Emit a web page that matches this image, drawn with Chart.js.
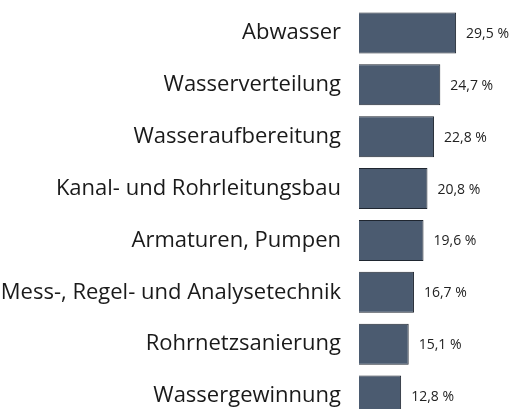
<!DOCTYPE html>
<html>
<head>
<meta charset="utf-8">
<script src="https://cdn.jsdelivr.net/npm/chart.js@4"></script>
<style>
  html, body { margin: 0; padding: 0; background: #fff; overflow: hidden; }
  canvas { display: block; }
</style>
</head>
<body>
<canvas id="bereichChart" width="517" height="422"></canvas>
<script>
const categories = [
  'Abwasser',
  'Wasserverteilung',
  'Wasseraufbereitung',
  'Kanal- und Rohrleitungsbau',
  'Armaturen, Pumpen',
  'Mess-, Regel- und Analysetechnik',
  'Rohrnetzsanierung',
  'Wassergewinnung',
];
const shares = [29.5, 24.7, 22.8, 20.8, 19.6, 16.7, 15.1, 12.8];

const formatShare = (v) => `${v.toFixed(1).replace('.', ',')} %`;

// draws the "29,5 %" labels right of each bar
const valueLabels = {
  id: 'valueLabels',
  afterDatasetsDraw: (chart) => {
    const { ctx } = chart;
    const meta = chart.getDatasetMeta(0);
    ctx.save();
    ctx.font = '14px "Open Sans"';
    ctx.fillStyle = '#222';
    ctx.textAlign = 'left';
    ctx.textBaseline = 'middle';
    meta.data.forEach((bar, i) => {
      ctx.fillText(formatShare(shares[i]), bar.x + 10, bar.y + 1);
    });
    ctx.restore();
  },
};

new Chart('bereichChart', {
  type: 'bar',
  data: {
    labels: categories,
    datasets: [
      {
        data: shares,
        backgroundColor: '#4b5b70',
        borderColor: '#1f2630',
        borderWidth: 1,
        categoryPercentage: 1,
        barPercentage: 0.79,
      },
    ],
  },
  options: {
    indexAxis: 'y',
    responsive: false,
    animation: false,
    layout: { padding: { top: 7, right: 0, bottom: 0, left: 0 } },
    plugins: {
      legend: { display: false },
      tooltip: { enabled: false },
    },
    scales: {
      x: {
        display: false,
        min: 0,
        max: 48,
      },
      y: {
        // fixed label column, and no extra vertical room for the labels
        afterFit: (scale) => {
          scale.width = 359;
          scale.paddingTop = 0;
          scale.paddingBottom = 0;
        },
        grid: { display: false },
        border: { display: false },
        ticks: {
          padding: 10,
          color: '#1a1a1a',
          font: { family: 'Open Sans', size: 22 },
        },
      },
    },
  },
  plugins: [valueLabels],
});
</script>
</body>
</html>
